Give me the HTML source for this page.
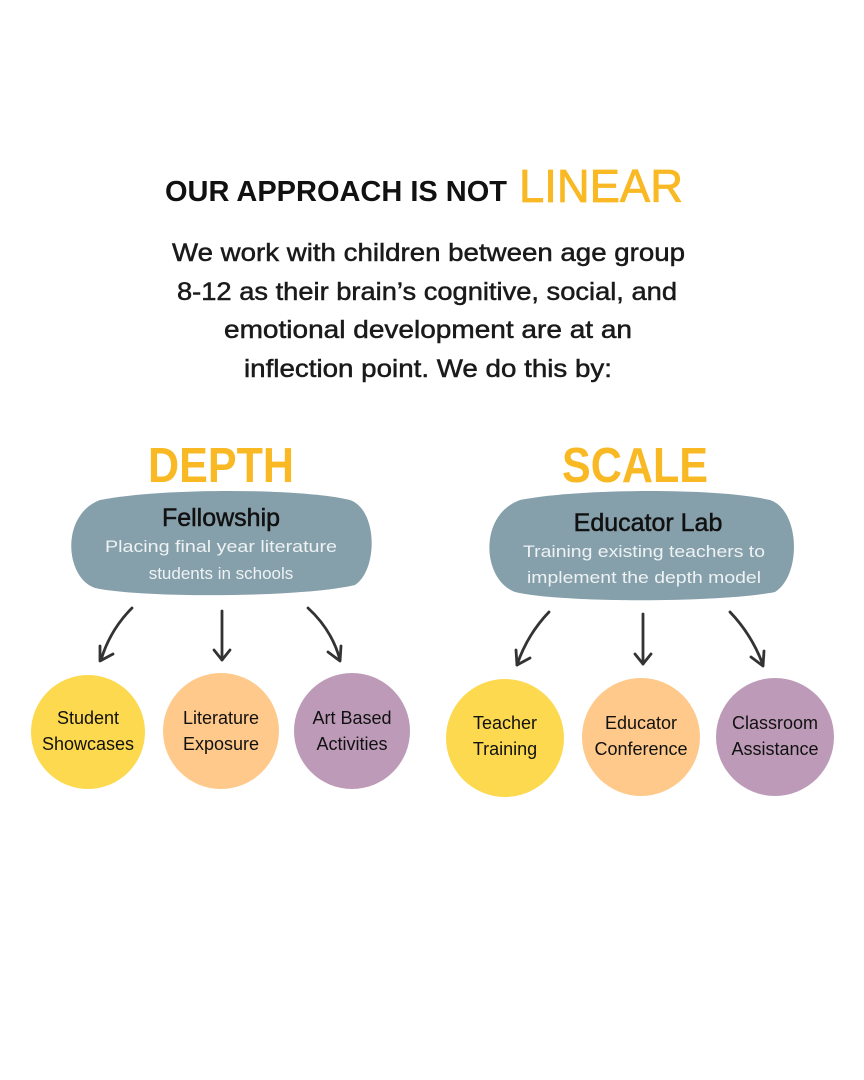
<!DOCTYPE html>
<html><head><meta charset="utf-8"><style>
html,body{margin:0;padding:0;background:#fff;width:864px;height:1080px;overflow:hidden}
svg{display:block}
text{font-family:"Liberation Sans",sans-serif}
</style></head><body>
<svg width="864" height="1080" viewBox="0 0 864 1080" xmlns="http://www.w3.org/2000/svg">
<rect width="864" height="1080" fill="#fff"/>
<text x="165" y="201" font-size="29" font-weight="bold" fill="#111" textLength="342" lengthAdjust="spacingAndGlyphs">OUR APPROACH IS NOT</text>
<text x="519" y="202" font-size="46" fill="#f9b924" stroke="#f9b924" stroke-width="0.8" textLength="164" lengthAdjust="spacingAndGlyphs">LINEAR</text>
<g font-size="25" fill="#1a1a1a" stroke="#1a1a1a" stroke-width="0.5">
<text x="172" y="261" textLength="513" lengthAdjust="spacingAndGlyphs">We work with children between age group</text>
<text x="177" y="300" textLength="500" lengthAdjust="spacingAndGlyphs">8-12 as their brain’s cognitive, social, and</text>
<text x="224" y="338" textLength="408" lengthAdjust="spacingAndGlyphs">emotional development are at an</text>
<text x="244" y="377" textLength="368" lengthAdjust="spacingAndGlyphs">inflection point. We do this by:</text>
</g>
<text x="221" y="482" font-size="49" font-weight="bold" fill="#f9b924" text-anchor="middle" textLength="146" lengthAdjust="spacingAndGlyphs">DEPTH</text>
<text x="635" y="482" font-size="49" font-weight="bold" fill="#f9b924" text-anchor="middle" textLength="146" lengthAdjust="spacingAndGlyphs">SCALE</text>
<path d="M100,500 C160,488 300,488 350,500 C378,510 378,570 355,585 C300,598 140,598 95,588 C65,578 60,515 100,500Z" fill="#86a0ab"/>
<path d="M520,500 C580,488 720,488 770,500 C800,510 802,575 775,592 C720,603 560,603 515,592 C482,580 478,515 520,500Z" fill="#86a0ab"/>
<text x="221" y="526" font-size="25" fill="#111" stroke="#111" stroke-width="0.5" text-anchor="middle">Fellowship</text>
<text x="221" y="552" font-size="17" fill="#eef2f4" text-anchor="middle" textLength="232" lengthAdjust="spacingAndGlyphs">Placing final year literature</text>
<text x="221" y="579" font-size="17" fill="#eef2f4" text-anchor="middle">students in schools</text>
<text x="648" y="531" font-size="25" fill="#111" stroke="#111" stroke-width="0.5" text-anchor="middle">Educator Lab</text>
<text x="644" y="557" font-size="17" fill="#eef2f4" text-anchor="middle" textLength="242" lengthAdjust="spacingAndGlyphs">Training existing teachers to</text>
<text x="644" y="583" font-size="17" fill="#eef2f4" text-anchor="middle" textLength="234" lengthAdjust="spacingAndGlyphs">implement the depth model</text>
<g stroke="#333" stroke-width="2.8" fill="none" stroke-linecap="round" stroke-linejoin="round">
<path d="M132,608 Q110,630 101,660"/><path d="M100,646 L100,661 L113,654"/>
<path d="M222,611 L222,660"/><path d="M214,650 L222,660 L230,650"/>
<path d="M308,608 Q332,630 340,660"/><path d="M328,652 L340,661 L341,646"/>
<path d="M549,612 Q527,635 517,665"/><path d="M516,650 L517,665 L530,658"/>
<path d="M643,614 L643,664"/><path d="M635,654 L643,664 L651,654"/>
<path d="M730,612 Q752,635 763,665"/><path d="M751,657 L763,666 L764,651"/>
</g>
<circle cx="88" cy="732" r="57" fill="#fcd94f"/>
<circle cx="221" cy="731" r="58" fill="#fec98a"/>
<circle cx="352" cy="731" r="58" fill="#bd9bb8"/>
<circle cx="505" cy="738" r="59" fill="#fcd94f"/>
<circle cx="641" cy="737" r="59" fill="#fec98a"/>
<circle cx="775" cy="737" r="59" fill="#bd9bb8"/>
<g font-size="18" fill="#111" text-anchor="middle">
<text x="88" y="724">Student</text><text x="88" y="750">Showcases</text>
<text x="221" y="724">Literature</text><text x="221" y="750">Exposure</text>
<text x="352" y="724">Art Based</text><text x="352" y="750">Activities</text>
<text x="505" y="729">Teacher</text><text x="505" y="755">Training</text>
<text x="641" y="729">Educator</text><text x="641" y="755">Conference</text>
<text x="775" y="729">Classroom</text><text x="775" y="755">Assistance</text>
</g>
</svg>
</body></html>
